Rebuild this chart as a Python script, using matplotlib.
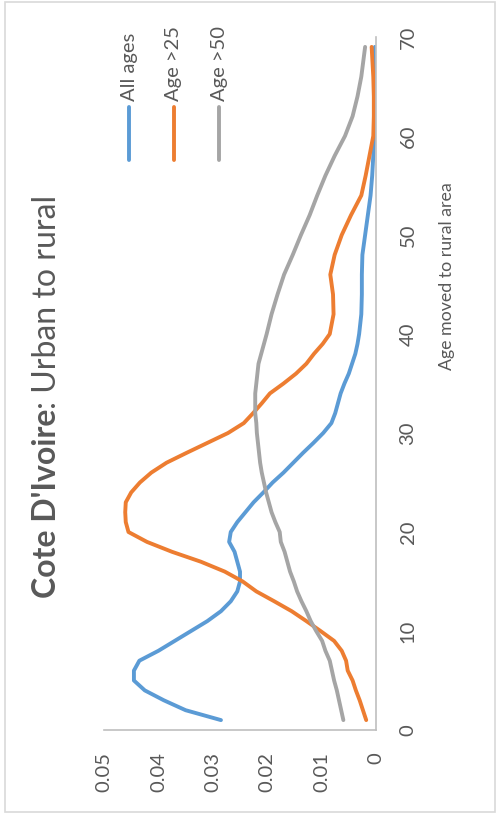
import matplotlib
matplotlib.use("Agg")
from matplotlib import pyplot as plt
from matplotlib.lines import Line2D
from matplotlib.patches import Rectangle

plt.rcParams['font.family'] = ['Lato', 'DejaVu Sans']

# age moved to rural area
ages = [1, 2, 3, 4, 5, 6, 7, 8, 9, 10, 11, 12, 13, 14, 15, 16, 17, 18, 19, 20,
        21, 22, 23, 24, 25, 26, 27, 28, 29, 30, 31, 32, 33, 34, 35, 36, 37, 38, 39, 40,
        42, 44, 46, 48, 50, 52, 54, 56, 58, 60, 62, 64, 66, 69]

all_ages = [0.0285, 0.035, 0.039, 0.0425, 0.0445, 0.0445, 0.0435, 0.040, 0.037, 0.034,
            0.031, 0.0285, 0.0267, 0.0255, 0.025, 0.025, 0.0255, 0.026, 0.027, 0.0267,
            0.0255, 0.024, 0.0225, 0.0207, 0.019, 0.017, 0.0152, 0.0134, 0.0115, 0.0097,
            0.0082, 0.0075, 0.007, 0.0065, 0.0058, 0.005, 0.0044, 0.0038, 0.0034, 0.0031,
            0.0027, 0.0026, 0.0026, 0.0025, 0.002, 0.0015, 0.001, 0.0007, 0.0005, 0.0003,
            0.0002, 0.0002, 0.0002, 0.0002]

age_gt25 = [0.0018, 0.0024, 0.003, 0.0037, 0.0043, 0.0052, 0.0055, 0.0063, 0.0077, 0.0102,
            0.0128, 0.0155, 0.0187, 0.022, 0.0245, 0.0278, 0.0322, 0.0375, 0.0421, 0.0455,
            0.046, 0.0461, 0.046, 0.045, 0.0434, 0.0413, 0.0385, 0.0348, 0.031, 0.0272,
            0.0243, 0.0226, 0.021, 0.0195, 0.017, 0.0147, 0.0128, 0.0114, 0.0098, 0.0085,
            0.0078, 0.0079, 0.0084, 0.0076, 0.0063, 0.0046, 0.0027, 0.0019, 0.0012, 0.0005,
            0.0004, 0.0004, 0.0005, 0.0008]

age_gt50 = [0.006, 0.0064, 0.0068, 0.0072, 0.0077, 0.0081, 0.0085, 0.0093, 0.0099, 0.011,
            0.012, 0.0128, 0.0137, 0.0145, 0.0151, 0.0158, 0.0163, 0.0168, 0.0175, 0.0177,
            0.0185, 0.0192, 0.0197, 0.0202, 0.0206, 0.021, 0.0213, 0.0215, 0.0217, 0.0219,
            0.022, 0.0222, 0.0222, 0.0222, 0.022, 0.0218, 0.0216, 0.0211, 0.0206, 0.0201,
            0.0192, 0.0181, 0.0169, 0.0153, 0.0138, 0.0122, 0.0108, 0.0093, 0.0076, 0.0057,
            0.0043, 0.0034, 0.0027, 0.002]

series_names = ['All ages', 'Age >25', 'Age >50']
colors = ['#5B9BD5', '#ED7D31', '#A5A5A5']
age_ticks = [0, 10, 20, 30, 40, 50, 60, 70]
dens_ticks = [0, 0.01, 0.02, 0.03, 0.04, 0.05]
dens_labels = ['0', '0.01', '0.02', '0.03', '0.04', '0.05']

W, H = 496, 823
txt = '#595959'
fig = plt.figure(figsize=(W / 100, H / 100), dpi=100)
ax = fig.add_axes([104 / W, (H - 730) / H, (376 - 104) / W, (730 - 37) / H])

# chart is turned on its side: age runs up, density runs to the left
for vals, c in zip([all_ages, age_gt25, age_gt50], colors):
    ax.plot(vals, ages, color=c, lw=2.8, solid_joinstyle='round', solid_capstyle='round')

ax.set_xlim(0.05, 0)
ax.set_ylim(0, 70)
ax.set_xticks(dens_ticks)
ax.set_xticklabels(dens_labels, rotation=90)
ax.set_yticks(age_ticks)
ax.set_yticklabels([str(a) for a in age_ticks], rotation=90, va='center')
ax.yaxis.tick_right()
ax.tick_params(axis='x', length=0, pad=16, labelsize=14.5, labelcolor=txt)
ax.tick_params(axis='y', length=0, pad=17, labelsize=14.5, labelcolor=txt)
for s in ['left', 'top']:
    ax.spines[s].set_visible(False)
for s in ['right', 'bottom']:
    ax.spines[s].set_color('#BFBFBF')
    ax.spines[s].set_linewidth(1.2)

fig.text(447 / W, 1 - 276 / H, 'Age moved to rural area', rotation=90,
         ha='center', va='center', fontsize=12.8, color=txt)

# title: bold country name, then regular subtitle
t1 = fig.text(47 / W, 1 - 598 / H, "Cote D'Ivoire", rotation=90, ha='center', va='bottom',
              fontsize=23, fontweight='bold', color=txt)
fig.canvas.draw()
bb = t1.get_window_extent()
fig.text(47 / W, bb.y1 / H, ": Urban to rural", rotation=90, ha='center', va='bottom',
         fontsize=23, color=txt)

# legend
for x, name, c in zip([129, 174, 219], series_names, colors):
    fig.add_artist(Line2D([x / W, x / W], [1 - 160 / H, 1 - 107 / H], color=c, lw=2.8,
                          solid_capstyle='round', transform=fig.transFigure))
    fig.text(x / W, 1 - 101 / H, name, rotation=90, ha='center', va='bottom',
             fontsize=14.5, color=txt)

fig.add_artist(Rectangle((5 / W, 1 - 812 / H), 490 / W, 810 / H, fill=False,
                         edgecolor='#D9D9D9', lw=1.2, transform=fig.transFigure))

fig.savefig('out.png', dpi=100)
